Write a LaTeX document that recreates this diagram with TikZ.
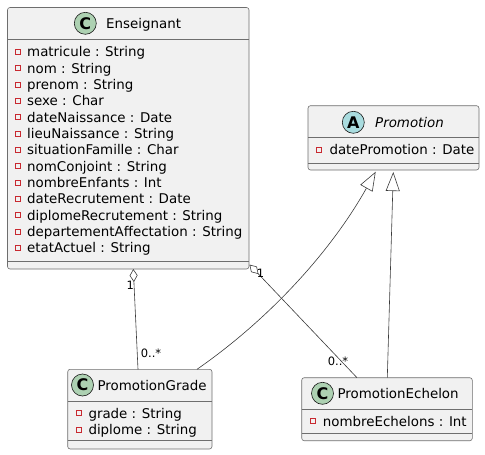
\documentclass[tikz,border=0pt]{standalone}
\usepackage{fontspec}
\setmainfont{DejaVu Sans}
\usetikzlibrary{arrows.meta,calc}
\definecolor{boxfill}{HTML}{F1F1F1}
\definecolor{boxline}{HTML}{181818}
\definecolor{boxedge}{HTML}{6E6E6E}
\definecolor{spotC}{HTML}{ADD1B2}
\definecolor{spotA}{HTML}{A9DCDF}
\definecolor{privred}{HTML}{C82930}
\begin{document}
\begin{tikzpicture}[x=1pt,y=-1pt,
  classbox/.style={draw=boxedge, fill=boxfill, line width=0.6pt, rounded corners=2.5pt, anchor=north west, inner sep=0pt, outer sep=0pt},
  sepline/.style={draw=boxedge, line width=0.6pt},
  attr/.style={anchor=base west, inner sep=0pt, font=\fontsize{13.4}{16}\selectfont},
  ctitle/.style={anchor=base west, inner sep=0pt, font=\fontsize{13.4}{16}\selectfont},
  spot/.style={circle, draw=boxline, line width=0.6pt, minimum size=22pt, inner sep=0pt, font=\bfseries\fontsize{16}{16}\selectfont},
  priv/.style={draw=privred, line width=0.6pt, minimum size=5pt, inner sep=0pt},
  mult/.style={inner sep=0pt, font=\fontsize{11.5}{12}\selectfont},
  link/.style={draw=boxline!85, line width=0.6pt},
]
\useasboundingbox (0,0) rectangle (485,455);

% Enseignant
\node[classbox, minimum width=241.5pt, minimum height=261.5pt] (ens) at (7.5,7.5) {};
\draw[sepline] (7.5,39) -- (249,39);
\draw[sepline] (7.5,261.7) -- (249,261.7);
\node[spot, fill=spotC] (ensC) at (85.3,23.3) {C};
\node[ctitle] (ensT) at (106,28.3) {Enseignant};
\foreach \t [count=\i] in {matricule : String, nom : String, prenom : String, sexe : Char, dateNaissance : Date, lieuNaissance : String, situationFamille : Char, nomConjoint : String, nombreEnfants : Int, dateRecrutement : Date, diplomeRecrutement : String, departementAffectation : String, etatActuel : String} {
  \node[attr] (ea\i) at (27,{56.7+16.33*(\i-1)}) {\t};
  \node[priv] (ep\i) at (18.2,{51.7+16.33*(\i-1)}) {};
}

% Promotion
\node[classbox, minimum width=171pt, minimum height=64.3pt] (promo) at (308,105.7) {};
\draw[sepline] (308,137.7) -- (479,137.7);
\draw[sepline] (308,163.3) -- (479,163.3);
\node[spot, fill=spotA] (promoA) at (353.3,122.3) {A};
\node[ctitle] (promoT) at (375,127.3) {\itshape Promotion};
\node[priv] (pp1) at (319.2,149.5) {};
\node[attr] (pa1) at (329.3,154.5) {datePromotion : Date};

% PromotionGrade
\node[classbox, minimum width=144.3pt, minimum height=79.7pt] (pg) at (67.7,369.3) {};
\draw[sepline] (67.7,401.7) -- (212,401.7);
\draw[sepline] (67.7,440.7) -- (212,440.7);
\node[spot, fill=spotC] (pgC) at (82.5,385) {C};
\node[ctitle] (pgT) at (97.3,390) {PromotionGrade};
\node[priv] (gp1) at (79.2,413) {};
\node[attr] (ga1) at (88.3,418) {grade : String};
\node[priv] (gp2) at (79.2,429.3) {};
\node[attr] (ga2) at (88.3,434.3) {diplome : String};

% PromotionEchelon
\node[classbox, minimum width=170.6pt, minimum height=63pt] (pe) at (301.7,377.7) {};
\draw[sepline] (301.7,409.3) -- (472.3,409.3);
\draw[sepline] (301.7,433) -- (472.3,433);
\node[spot, fill=spotC] (peC) at (322.5,393.3) {C};
\node[ctitle] (peT) at (337.3,398.3) {PromotionEchelon};
\node[priv] (hp1) at (313.2,421.2) {};
\node[attr] (ha1) at (322.7,426.2) {nombreEchelons : Int};

% connectors
\draw[link, {Diamond[open,length=13pt,width=8pt]}-] ($(ens.south west)+(125.8,0)$) -- ($(pg.north west)+(70.3,0)$);
\draw[link, {Diamond[open,length=13pt,width=8pt]}-] ($(ens.south east)+(0.5,-4.4)$) -- ($(pe.north west)+(55.3,0)$);
\draw[link, -{Triangle[open,length=19pt,width=14pt]}] ($(pg.north west)+(129.3,0)$) .. controls (268,320) and (330,253) .. ($(promo.south west)+(67.7,1.7)$);
\draw[link, -{Triangle[open,length=19pt,width=14pt]}] ($(pe.north west)+(85.6,0)$) -- ($(promo.south west)+(85.3,2)$);

\node[mult] (m1) at (130.4,285.3) {1};
\node[mult] (m2) at (151,353) {0..*};
\node[mult] (m3) at (260.5,273.7) {1};
\node[mult] (m4) at (338,361.7) {0..*};
\end{tikzpicture}
\end{document}
